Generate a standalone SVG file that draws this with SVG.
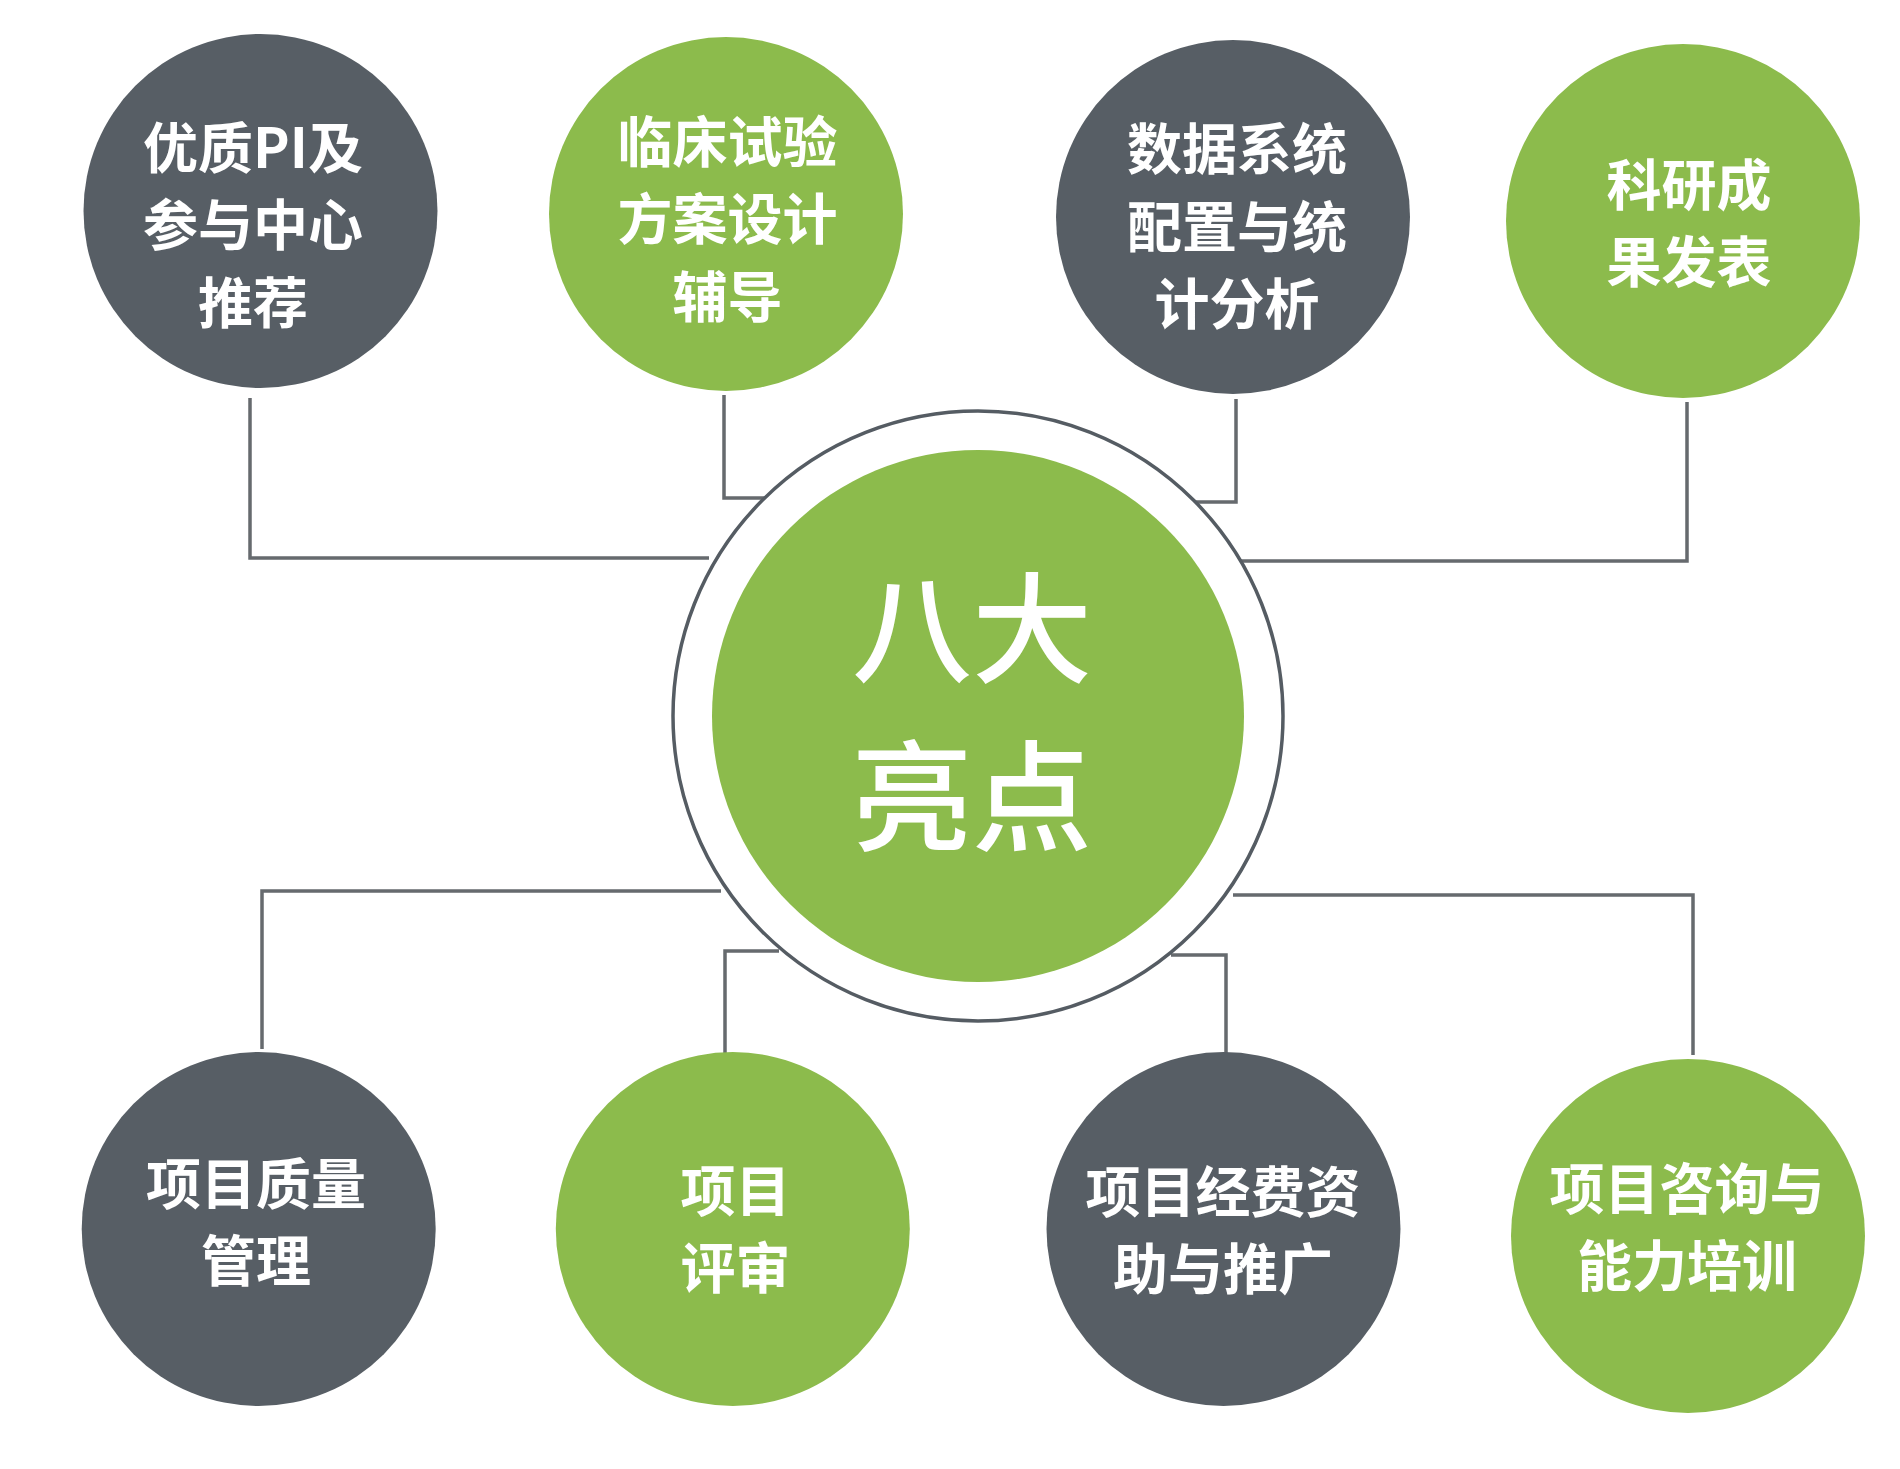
<svg xmlns="http://www.w3.org/2000/svg" width="1900" height="1469" viewBox="0 0 1900 1469">
<style>
.dark{fill:#575e65}
.green{fill:#8cbb4c}
.lbl{fill:#ffffff;font-family:"Noto Sans CJK SC","Noto Sans",sans-serif;font-weight:700;font-size:55px;text-anchor:middle}
.big{fill:#ffffff;font-family:"Noto Sans CJK SC","Noto Sans",sans-serif;font-weight:500;font-size:120px;text-anchor:middle}
.conn{fill:none;stroke:#666a6e;stroke-width:3.5}
</style>
<rect width="1900" height="1469" fill="#ffffff"/>
<g id="connectors">
<polyline class="conn" points="250,398 250,558 709,558"/>
<polyline class="conn" points="724,395 724,498 770,498"/>
<polyline class="conn" points="1236,399 1236,502 1195,502"/>
<polyline class="conn" points="1687,402 1687,561 1240,561"/>
<polyline class="conn" points="721,891 262,891 262,1049"/>
<polyline class="conn" points="779,951 725,951 725,1053"/>
<polyline class="conn" points="1171,955 1226,955 1226,1053"/>
<polyline class="conn" points="1233,895 1693,895 1693,1055"/>
</g>
<g id="center">
<circle cx="978" cy="716" r="305" fill="#ffffff" stroke="#555c63" stroke-width="3.5"/>
<circle cx="978" cy="716" r="266" class="green"/>
<text class="big" x="972" y="674">八大</text>
<text class="big" x="972" y="842">亮点</text>
</g>
<g id="n1">
<circle cx="260.5" cy="211" r="177" class="dark"/>
<text class="lbl" x="253" y="167.5">优质PI及</text>
<text class="lbl" x="253" y="244.5">参与中心</text>
<text class="lbl" x="253" y="322.5">推荐</text>
</g>
<g id="n2">
<circle cx="726" cy="214" r="177" class="green"/>
<text class="lbl" x="727.5" y="161.5">临床试验</text>
<text class="lbl" x="727.5" y="239">方案设计</text>
<text class="lbl" x="727.5" y="316.5">辅导</text>
</g>
<g id="n3">
<circle cx="1233" cy="217" r="177" class="dark"/>
<text class="lbl" x="1237" y="168.5">数据系统</text>
<text class="lbl" x="1237" y="247">配置与统</text>
<text class="lbl" x="1237" y="323.5">计分析</text>
</g>
<g id="n4">
<circle cx="1683" cy="221" r="177" class="green"/>
<text class="lbl" x="1689" y="204.5">科研成</text>
<text class="lbl" x="1689" y="282">果发表</text>
</g>
<g id="n5">
<circle cx="258.7" cy="1229" r="177" class="dark"/>
<text class="lbl" x="256" y="1204">项目质量</text>
<text class="lbl" x="256" y="1280.5">管理</text>
</g>
<g id="n6">
<circle cx="732.8" cy="1229" r="177" class="green"/>
<text class="lbl" x="735.5" y="1211">项目</text>
<text class="lbl" x="735.5" y="1288">评审</text>
</g>
<g id="n7">
<circle cx="1223.5" cy="1229" r="177" class="dark"/>
<text class="lbl" x="1223" y="1212">项目经费资</text>
<text class="lbl" x="1223" y="1288.5">助与推广</text>
</g>
<g id="n8">
<circle cx="1688" cy="1236" r="177" class="green"/>
<text class="lbl" x="1687" y="1208.5">项目咨询与</text>
<text class="lbl" x="1687" y="1285.5">能力培训</text>
</g>
</svg>
